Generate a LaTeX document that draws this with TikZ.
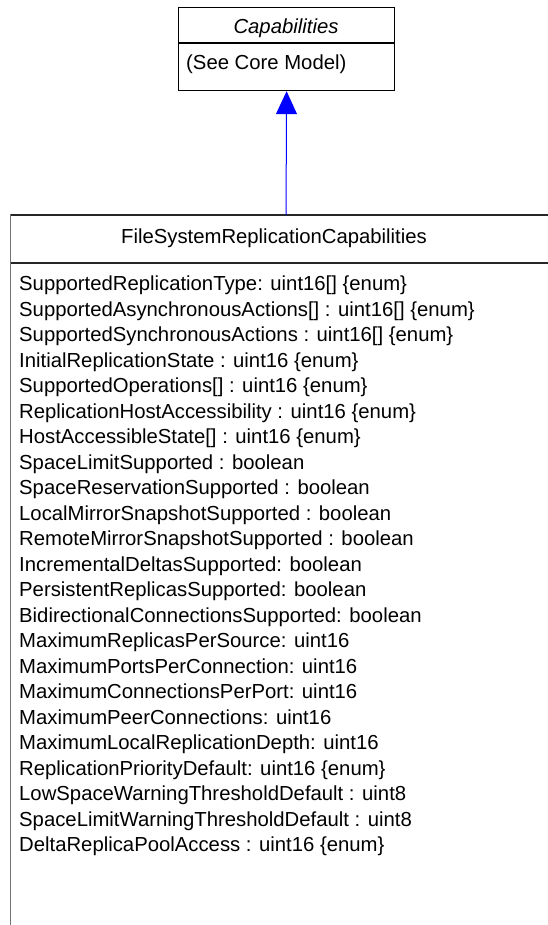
\documentclass[tikz,border=0pt]{standalone}
\usepackage{fontspec}
\setmainfont{Liberation Sans}
\usetikzlibrary{arrows.meta}
\begin{document}
\begin{tikzpicture}[x=1pt,y=1pt,
  txt/.style={inner sep=0pt, font=\fontsize{20.3}{24}\selectfont},
  attr/.style={txt, anchor=base west},
  frame/.style={draw=black, line width=1.2pt},
  sideline/.style={draw=black!55, line width=1.6pt},
  inherit/.style={draw=blue, line width=1pt, -{Triangle[length=23pt, width=21pt, fill=blue]}}
]
\useasboundingbox (0,0) rectangle (548,-925);
% superclass box
\node[frame, minimum width=216pt, minimum height=83pt, inner sep=0pt, anchor=north west] (capbox) at (178,-7) {};
\draw[frame] (capbox.west |- 0,-43) -- (capbox.east |- 0,-43);
\node[txt, font=\fontsize{20.3}{24}\selectfont\itshape, anchor=base] (captitle) at (286,-33.5) {Capabilities};
\node[attr] (capattr) at (186,-70) {(See Core Model)};
% subclass box (clipped at right and bottom)
\coordinate (bigtop) at (286,-215);
\draw[frame, draw=black!85] (10.5,-215) -- (548,-215);
\draw[sideline] (10.5,-214.4) -- (10.5,-925);
\draw[frame, draw=black!85] (10.5,-263) -- (548,-263);
\node[txt, anchor=base] (bigtitle) at (274,-243.3) {FileSystemReplicationCapabilities};
\foreach \t [count=\i from 0] in {
  SupportedReplicationType: uint16[] \{enum\},
  SupportedAsynchronousActions[] : uint16[] \{enum\},
  SupportedSynchronousActions : uint16[] \{enum\},
  InitialReplicationState : uint16 \{enum\},
  SupportedOperations[] : uint16 \{enum\},
  ReplicationHostAccessibility : uint16 \{enum\},
  HostAccessibleState[] : uint16 \{enum\},
  SpaceLimitSupported : boolean,
  SpaceReservationSupported : boolean,
  LocalMirrorSnapshotSupported : boolean,
  RemoteMirrorSnapshotSupported : boolean,
  IncrementalDeltasSupported: boolean,
  PersistentReplicasSupported: boolean,
  BidirectionalConnectionsSupported: boolean,
  MaximumReplicasPerSource: uint16,
  MaximumPortsPerConnection: uint16,
  MaximumConnectionsPerPort: uint16,
  MaximumPeerConnections: uint16,
  MaximumLocalReplicationDepth: uint16,
  ReplicationPriorityDefault: uint16 \{enum\},
  LowSpaceWarningThresholdDefault : uint8,
  SpaceLimitWarningThresholdDefault : uint8,
  DeltaReplicaPoolAccess : uint16 \{enum\}}
  \node[attr] (a\i) at (19,{-290.5-25.5*\i}) {\t};
% generalization
\draw[inherit] (bigtop) -- (capbox.south);
\end{tikzpicture}
\end{document}
